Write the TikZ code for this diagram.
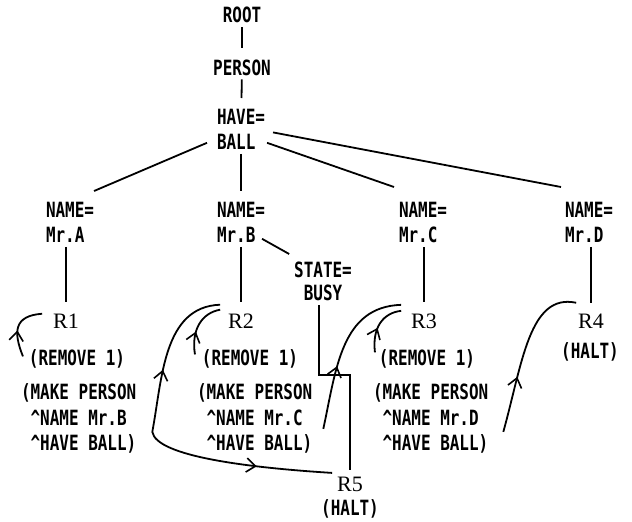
\documentclass[tikz,border=0pt]{standalone}
\usepackage{fontspec}
\usetikzlibrary{arrows.meta,decorations.markings}
\newfontfamily\treefont[FakeStretch=0.76]{DejaVu Sans Mono}
\newfontfamily\rulefont{Liberation Serif}

\begin{document}
\begin{tikzpicture}[x=1pt,y=-1pt,
    lbl/.style={inner sep=0pt,outer sep=0pt,
      font=\treefont\bfseries\fontsize{21pt}{25.5pt}\selectfont},
    attr/.style={lbl,align=left,anchor=north west},
    rname/.style={inner sep=0pt,outer sep=0pt,anchor=base,
      font=\rulefont\fontsize{22pt}{24pt}\selectfont},
    edge/.style={line width=1.8pt},
    link/.style={edge,shorten <=4pt,shorten >=11pt},
    tip/.tip={Straight Barb[length=9pt,width=14pt,line width=1.6pt]},
    flow/.style={edge,postaction={decorate},
      decoration={markings,mark=at position #1 with {\arrow{tip}}}},
    flow/.default=0.5]
  \useasboundingbox (0,0) rectangle (632,522);

  % working memory
  \node[lbl,anchor=base] (root) at (242,23) {ROOT};
  \node[lbl,anchor=base] (person) at (242,75) {PERSON};
  \node[attr] (have) at (217,109) {HAVE=\\BALL};
  \node[attr] (nameA) at (46,202) {NAME=\\Mr.A};
  \node[attr] (nameB) at (217,202) {NAME=\\Mr.B};
  \node[attr] (nameC) at (399,202) {NAME=\\Mr.C};
  \node[attr] (nameD) at (565,202) {NAME=\\Mr.D};
  \node[lbl,align=center,anchor=north] (state) at (323,262) {STATE=\\[-3pt]BUSY};

  % rules
  \node[rname] (r1) at (66,328) {R1};
  \node[rname] (r2) at (241,328) {R2};
  \node[rname] (r3) at (424,328) {R3};
  \node[rname] (r4) at (591,328) {R4};
  \node[rname] (r5) at (350,491) {R5};
  \node[lbl,anchor=base] (rem1) at (77,365) {(REMOVE 1)};
  \node[lbl,anchor=base] (rem2) at (250,365) {(REMOVE 1)};
  \node[lbl,anchor=base] (rem3) at (427,365) {(REMOVE 1)};
  \node[lbl,anchor=base] (halt4) at (590,358) {(HALT)};
  \node[lbl,anchor=base] (halt5) at (350,515) {(HALT)};
  \node[attr] (make1) at (21,384) {(MAKE PERSON\\\hphantom{(}\textasciicircum NAME Mr.B\\\hphantom{(}\textasciicircum HAVE BALL)};
  \node[attr] (make2) at (197,384) {(MAKE PERSON\\\hphantom{(}\textasciicircum NAME Mr.C\\\hphantom{(}\textasciicircum HAVE BALL)};
  \node[attr] (make3) at (373,384) {(MAKE PERSON\\\hphantom{(}\textasciicircum NAME Mr.D\\\hphantom{(}\textasciicircum HAVE BALL)};

  % tree
  \draw[link] (root) -- (person);
  \draw[link] (person) -- (have);
  \draw[edge] ([shift={(-10pt,7pt)}]have.south west) -- ([yshift=11pt]nameA.north east);
  \draw[link] (have) -- (nameB);
  \draw[edge] ([shift={(2pt,7pt)}]have.south east) -- ([shift={(-5pt,15pt)}]nameC.north west);
  \draw[edge] ([shift={(8pt,-3pt)}]have.east) -- ([shift={(-4pt,15pt)}]nameD.north west);
  \draw[edge] ([shift={(-3pt,4pt)}]nameB.south east) -- ([shift={(-5pt,8pt)}]state.north west);
  \foreach \n/\r in {nameA/r1,nameB/r2,nameC/r3,nameD/r4}
    \draw[link] (\n.south -| \r) -- (\r);
  \draw[edge,shorten <=5pt,shorten >=7pt] ([xshift=-4pt]state.south) -- ++(0,75) -| (r5);

  % rule firing
  \draw[flow=0.45] ([shift={(-6pt,2pt)}]rem1.west) .. controls +(-10,-25) and +(-28,2) .. ([shift={(-11pt,7pt)}]r1.west);
  \draw[flow=0.4] ([shift={(-7pt,4pt)}]rem2.west) .. controls +(-4,-25) and +(-18,3) .. ([shift={(-8pt,11pt)}]r2.west);
  \draw[flow=0.45] ([shift={(-4pt,6pt)}]rem3.west) .. controls +(-3,-25) and +(-18,2) .. ([shift={(-10pt,10pt)}]r3.west);
  \coordinate (fork) at ([shift={(16pt,-13pt)}]make1.east);
  \draw[flow=0.4] (fork) .. controls +(10,-53) and +(-57,2) .. ([shift={(-8pt,16pt)}]r2.west);
  \draw[flow=0.6] (fork) .. controls +(4,25) and +(-80,-5) .. ([shift={(-5pt,11pt)}]r5.west);
  \draw[flow=0.4] ([shift={(11pt,-10pt)}]make2.east) .. controls +(13,-60) and +(-60,2) .. ([shift={(-10pt,16pt)}]r3.west);
  \draw[flow=0.35] ([shift={(15pt,-13pt)}]make3.east) .. controls +(19,-68) and +(-47,-10) .. ([shift={(-2pt,18pt)}]r4.west);
\end{tikzpicture}
\end{document}
